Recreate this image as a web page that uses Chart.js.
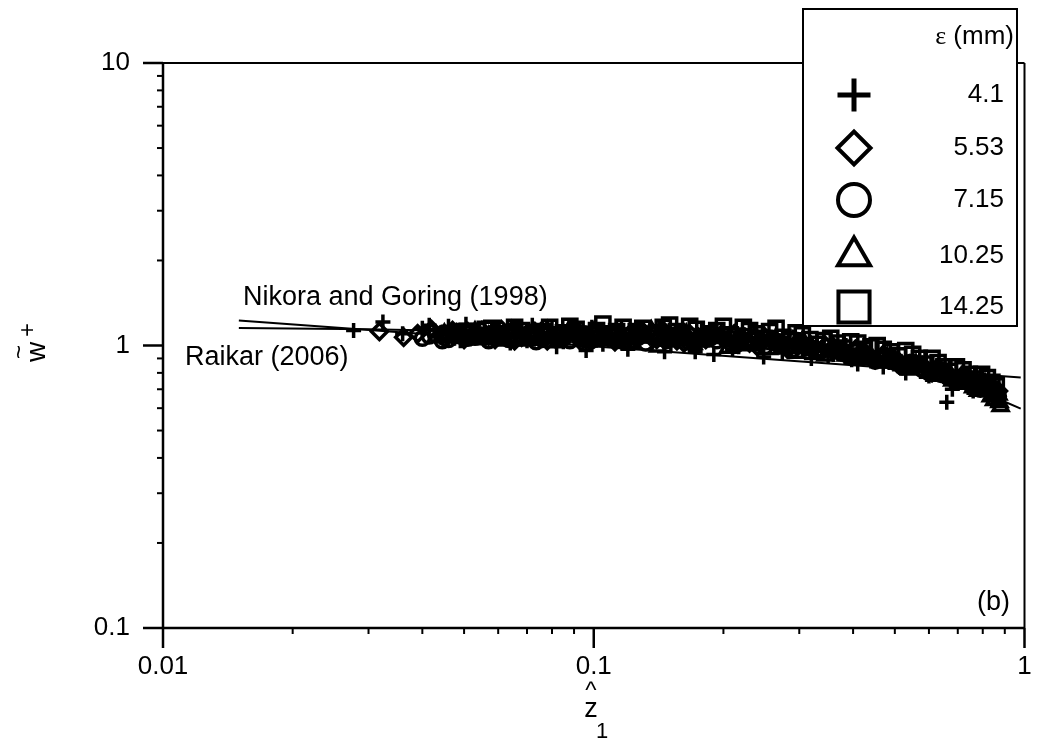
<!DOCTYPE html>
<html>
<head>
<meta charset="utf-8">
<script src="https://cdn.jsdelivr.net/npm/chart.js@4.4.0/dist/chart.umd.min.js"></script>
<style>
  html, body { margin: 0; padding: 0; background: #fff; }
  canvas { display: block; }
</style>
</head>
<body>
<canvas id="chart" width="1038" height="744"></canvas>
<script>
const FONT = '"Liberation Sans", Arial, sans-serif';

// axis ticks
const xMajorTicks = [0.01, 0.1, 1];
const yMajorTicks = [0.1, 1, 10];

// legend labels: roughness epsilon (mm)
const roughnessLabels = ['4.1', '5.53', '7.15', '10.25', '14.25'];
const markerStyles = ['cross', 'rectRot', 'circle', 'triangle', 'rect'];

// eps = 4.1 mm (crosses)
const crossX = [0.0277, 0.0324, 0.036, 0.040, 0.043, 0.046, 0.049, 0.052, 0.056, 0.060, 0.064, 0.068, 0.072, 0.077, 0.082, 0.087, 0.093, 0.099, 0.105, 0.112, 0.120, 0.128, 0.137, 0.146, 0.156, 0.167, 0.178, 0.190, 0.203, 0.217, 0.232, 0.248, 0.265, 0.283, 0.300, 0.320, 0.340, 0.360, 0.385, 0.410, 0.440, 0.470, 0.500, 0.530, 0.560, 0.600, 0.640, 0.660, 0.680, 0.720, 0.760, 0.800, 0.840, 0.860,
    0.0415, 0.0445, 0.0475, 0.0505, 0.054, 0.058, 0.062, 0.066, 0.070, 0.075, 0.080, 0.085, 0.090, 0.096, 0.102, 0.108, 0.116, 0.124, 0.133, 0.142, 0.151, 0.161, 0.172, 0.184, 0.196, 0.210, 0.224, 0.240, 0.256, 0.274, 0.292, 0.310, 0.330, 0.350, 0.372, 0.397, 0.425, 0.455, 0.485, 0.515, 0.545, 0.58, 0.62, 0.70, 0.74, 0.78, 0.82, 0.85];
const crossY = [1.13, 1.21, 1.10, 1.15, 1.08, 1.17, 1.04, 1.12, 1.06, 1.15, 1.02, 1.10, 1.18, 1.05, 0.99, 1.12, 1.07, 1.16, 1.01, 1.10, 0.97, 1.13, 1.04, 0.95, 1.09, 1.01, 1.14, 0.93, 1.06, 0.99, 1.10, 0.91, 1.02, 0.95, 1.05, 0.90, 0.98, 0.93, 1.00, 0.86, 0.92, 0.84, 0.90, 0.80, 0.86, 0.78, 0.82, 0.63, 0.70, 0.74, 0.69, 0.72, 0.64, 0.70,
    1.18, 1.11, 1.06, 1.19, 1.09, 1.13, 1.07, 1.16, 1.04, 1.11, 1.15, 1.03, 1.09, 0.96, 1.12, 1.06, 1.14, 1.03, 1.08, 1.16, 1.00, 1.12, 0.95, 1.05, 1.09, 0.97, 1.08, 1.02, 1.06, 0.94, 1.03, 0.97, 1.01, 0.92, 0.96, 0.89, 0.94, 0.90, 0.87, 0.84, 0.88, 0.83, 0.80, 0.76, 0.71, 0.75, 0.67, 0.68];

// eps = 5.53 mm (diamonds)
const diamondX = [0.0318, 0.0362, 0.039, 0.042, 0.045, 0.048, 0.052, 0.055, 0.059, 0.063, 0.068, 0.073, 0.078, 0.084, 0.090, 0.097, 0.104, 0.112, 0.120, 0.130, 0.140, 0.150, 0.162, 0.175, 0.190, 0.205, 0.220, 0.240, 0.260, 0.280, 0.300, 0.330, 0.360, 0.390, 0.420, 0.450, 0.490, 0.530, 0.570, 0.610, 0.650, 0.700, 0.740, 0.790, 0.830, 0.870,
    0.044, 0.047, 0.050, 0.0535, 0.057, 0.061, 0.0655, 0.0705, 0.0755, 0.081, 0.087, 0.0935, 0.1005, 0.108, 0.116, 0.125, 0.135, 0.145, 0.156, 0.168, 0.182, 0.197, 0.212, 0.230, 0.250, 0.270, 0.290, 0.315, 0.345, 0.375, 0.405, 0.435, 0.470, 0.510, 0.550, 0.590, 0.630, 0.675, 0.720, 0.765, 0.810, 0.850];
const diamondY = [1.12, 1.07, 1.10, 1.14, 1.06, 1.11, 1.08, 1.13, 1.05, 1.10, 1.07, 1.12, 1.04, 1.09, 1.13, 1.06, 1.10, 1.03, 1.08, 1.12, 1.05, 1.09, 1.02, 1.07, 1.11, 1.03, 1.06, 0.99, 1.04, 0.98, 1.01, 0.96, 0.99, 0.93, 0.95, 0.89, 0.91, 0.85, 0.86, 0.80, 0.81, 0.76, 0.77, 0.71, 0.73, 0.69,
    1.09, 1.13, 1.05, 1.11, 1.08, 1.14, 1.04, 1.09, 1.12, 1.06, 1.10, 1.03, 1.13, 1.07, 1.05, 1.10, 1.08, 1.13, 1.04, 1.09, 1.05, 1.08, 1.10, 1.02, 1.07, 1.01, 1.05, 0.99, 1.00, 0.95, 0.97, 0.92, 0.93, 0.88, 0.87, 0.83, 0.84, 0.78, 0.79, 0.74, 0.74, 0.70];

// eps = 7.15 mm (circles)
const circleX = [0.040, 0.043, 0.046, 0.049, 0.053, 0.057, 0.061, 0.066, 0.071, 0.076, 0.082, 0.088, 0.095, 0.102, 0.110, 0.118, 0.127, 0.137, 0.148, 0.160, 0.172, 0.186, 0.200, 0.215, 0.232, 0.250, 0.270, 0.290, 0.310, 0.335, 0.360, 0.390, 0.420, 0.450, 0.485, 0.520, 0.560, 0.600, 0.640, 0.690, 0.740, 0.790, 0.840, 0.870,
    0.0415, 0.0445, 0.0475, 0.051, 0.055, 0.059, 0.0635, 0.0685, 0.0735, 0.079, 0.085, 0.0915, 0.0985, 0.106, 0.114, 0.1225, 0.132, 0.1425, 0.154, 0.166, 0.179, 0.193, 0.2075, 0.2235, 0.241, 0.26, 0.28, 0.30, 0.322, 0.347, 0.375, 0.405, 0.435, 0.468, 0.502, 0.54, 0.58, 0.62, 0.665, 0.715, 0.765, 0.815, 0.855];
const circleY = [1.06, 1.09, 1.05, 1.10, 1.07, 1.04, 1.09, 1.06, 1.11, 1.05, 1.08, 1.04, 1.10, 1.06, 1.09, 1.03, 1.07, 1.11, 1.04, 1.08, 1.02, 1.06, 1.09, 1.01, 1.05, 0.99, 1.03, 0.97, 1.00, 0.95, 0.97, 0.92, 0.94, 0.88, 0.89, 0.84, 0.85, 0.80, 0.79, 0.75, 0.74, 0.70, 0.71, 0.66,
    1.08, 1.04, 1.11, 1.06, 1.09, 1.12, 1.05, 1.08, 1.03, 1.10, 1.06, 1.12, 1.04, 1.08, 1.05, 1.10, 1.02, 1.06, 1.09, 1.03, 1.07, 1.04, 1.06, 1.08, 1.02, 1.06, 1.00, 1.03, 0.98, 0.99, 0.94, 0.95, 0.91, 0.91, 0.87, 0.87, 0.82, 0.82, 0.77, 0.77, 0.72, 0.72, 0.68];

// eps = 10.25 mm (triangles)
const triangleX = [0.045, 0.049, 0.053, 0.057, 0.062, 0.067, 0.072, 0.078, 0.084, 0.090, 0.097, 0.105, 0.113, 0.122, 0.131, 0.141, 0.152, 0.164, 0.177, 0.190, 0.205, 0.220, 0.237, 0.255, 0.275, 0.296, 0.320, 0.345, 0.370, 0.400, 0.430, 0.460, 0.500, 0.540, 0.580, 0.620, 0.660, 0.700, 0.740, 0.780, 0.820, 0.850, 0.870, 0.880,
    0.047, 0.051, 0.055, 0.0595, 0.0645, 0.0695, 0.075, 0.081, 0.087, 0.0935, 0.101, 0.109, 0.1175, 0.1265, 0.136, 0.1465, 0.158, 0.1705, 0.1835, 0.1975, 0.2125, 0.2285, 0.246, 0.265, 0.2855, 0.308, 0.3325, 0.3575, 0.385, 0.415, 0.445, 0.48, 0.52, 0.56, 0.60, 0.64, 0.68, 0.72, 0.76, 0.80, 0.835, 0.86, 0.875];
const triangleY = [1.10, 1.06, 1.12, 1.08, 1.04, 1.10, 1.07, 1.13, 1.05, 1.09, 1.03, 1.08, 1.12, 1.02, 1.07, 0.99, 1.05, 1.10, 1.03, 1.07, 0.98, 1.04, 1.08, 0.97, 1.02, 0.94, 0.99, 0.92, 0.96, 0.90, 0.93, 0.87, 0.89, 0.82, 0.84, 0.78, 0.79, 0.73, 0.75, 0.69, 0.70, 0.64, 0.67, 0.61,
    1.07, 1.11, 1.05, 1.10, 1.13, 1.04, 1.09, 1.06, 1.11, 1.07, 1.12, 1.04, 1.06, 1.10, 1.13, 1.04, 1.08, 1.01, 1.06, 1.09, 1.03, 1.00, 1.05, 1.01, 0.98, 1.02, 0.95, 0.98, 0.92, 0.94, 0.89, 0.91, 0.85, 0.86, 0.80, 0.81, 0.75, 0.76, 0.71, 0.72, 0.66, 0.68, 0.63];

// eps = 14.25 mm (squares)
const squareX = [0.050, 0.054, 0.058, 0.063, 0.068, 0.073, 0.079, 0.085, 0.091, 0.098, 0.105, 0.113, 0.121, 0.130, 0.140, 0.150, 0.161, 0.173, 0.186, 0.200, 0.215, 0.230, 0.247, 0.265, 0.285, 0.305, 0.330, 0.355, 0.380, 0.410, 0.440, 0.470, 0.510, 0.550, 0.590, 0.630, 0.670, 0.720, 0.770, 0.820, 0.860,
    0.052, 0.056, 0.0605, 0.0655, 0.0705, 0.076, 0.082, 0.088, 0.0945, 0.1015, 0.109, 0.117, 0.1255, 0.135, 0.145, 0.1555, 0.167, 0.1795, 0.193, 0.2075, 0.2225, 0.2385, 0.256, 0.275, 0.295, 0.3175, 0.3425, 0.3675, 0.395, 0.425, 0.455, 0.49, 0.53, 0.57, 0.61, 0.65, 0.695, 0.745, 0.795, 0.84];
const squareY = [1.12, 1.08, 1.15, 1.10, 1.13, 1.07, 1.16, 1.11, 1.14, 1.09, 1.19, 1.12, 1.08, 1.15, 1.11, 1.18, 1.09, 1.14, 1.10, 1.17, 1.08, 1.13, 1.06, 1.15, 1.04, 1.09, 1.01, 1.06, 0.98, 1.02, 0.99, 0.97, 0.92, 0.93, 0.86, 0.87, 0.81, 0.82, 0.76, 0.77, 0.72,
    1.10, 1.14, 1.09, 1.16, 1.08, 1.12, 1.09, 1.17, 1.08, 1.13, 1.10, 1.16, 1.12, 1.09, 1.16, 1.12, 1.17, 1.07, 1.13, 1.09, 1.16, 1.10, 1.12, 1.07, 1.11, 1.05, 1.04, 1.02, 1.03, 0.97, 1.00, 0.95, 0.96, 0.90, 0.90, 0.84, 0.84, 0.79, 0.79, 0.74];

// fitted curves
const nikoraX = [0.015, 0.98];
const nikoraY = [1.226, 0.77];
const raikarX = [0.015, 0.03, 0.06, 0.1, 0.2, 0.3, 0.4, 0.5, 0.6, 0.7, 0.8, 0.9, 0.98];
const raikarY = [1.153, 1.141, 1.118, 1.088, 1.016, 0.948, 0.885, 0.826, 0.775, 0.724, 0.676, 0.632, 0.598];

function pts(xs, ys) {
    return xs.map((x, i) => ({ x: x, y: ys[i] }));
}

function tickList(majors) {
    const list = [];
    majors.forEach((m, i) => {
        list.push({ value: m, major: true });
        if (i < majors.length - 1) {
            for (let k = 2; k <= 9; k++) list.push({ value: +(m * k).toPrecision(3), major: false });
        }
    });
    return list;
}

function markerSet(xs, ys, style, radius) {
    return {
        type: 'scatter',
        data: pts(xs, ys),
        pointStyle: style,
        pointRadius: radius,
        pointBorderWidth: 3.5,
        borderColor: '#000',
        backgroundColor: 'rgba(0,0,0,0)'
    };
}

function curveSet(xs, ys) {
    return {
        type: 'line',
        data: pts(xs, ys),
        borderColor: '#000',
        borderWidth: 2,
        pointRadius: 0,
        fill: false,
        tension: 0
    };
}

function line(ctx, x1, y1, x2, y2) {
    ctx.beginPath();
    ctx.moveTo(x1, y1);
    ctx.lineTo(x2, y2);
    ctx.stroke();
}

const decorPlugin = {
    id: 'decor',
    afterDatasetsDraw(chart) {
        const { ctx, chartArea: a, scales: { x, y } } = chart;
        ctx.save();
        ctx.strokeStyle = '#000';
        ctx.fillStyle = '#000';

        // frame
        ctx.lineWidth = 2;
        line(ctx, a.left, a.top, a.right, a.top);
        line(ctx, a.right, a.top, a.right, a.bottom);
        ctx.lineWidth = 2.5;
        line(ctx, a.left, a.top, a.left, a.bottom);
        line(ctx, a.left, a.bottom, a.right, a.bottom);

        // tick marks
        x.ticks.forEach(t => {
            const px = x.getPixelForValue(t.value);
            ctx.lineWidth = t.major ? 2.5 : 2;
            line(ctx, px, a.bottom, px, a.bottom + (t.major ? 20 : 6));
        });
        y.ticks.forEach(t => {
            const py = y.getPixelForValue(t.value);
            ctx.lineWidth = t.major ? 2.5 : 2;
            line(ctx, a.left, py, a.left - (t.major ? 20 : 6), py);
        });

        // curve labels
        ctx.font = '27px ' + FONT;
        ctx.textBaseline = 'middle';
        ctx.textAlign = 'left';
        ctx.fillText('Nikora and Goring (1998)', 243, 298);
        ctx.fillText('Raikar (2006)', 185, 358);
        ctx.textAlign = 'right';
        ctx.fillText('(b)', 1010, 603);

        // x title: z hat, subscript 1
        ctx.textAlign = 'center';
        ctx.font = '24px ' + FONT;
        ctx.fillText('^', 591, 691);
        ctx.font = '27px ' + FONT;
        ctx.fillText('z', 591, 710);
        ctx.font = '22px ' + FONT;
        ctx.fillText('1', 602, 732);

        // y title: w tilde, superscript +
        ctx.save();
        ctx.translate(37, 352);
        ctx.rotate(-Math.PI / 2);
        ctx.font = '28px ' + FONT;
        ctx.fillText('w', 0, 0);
        ctx.font = '24px ' + FONT;
        ctx.fillText('~', 0, -17);
        ctx.fillText('+', 22, -9);
        ctx.restore();

        // legend box
        ctx.lineWidth = 2;
        ctx.fillStyle = '#fff';
        ctx.fillRect(803, 9, 214, 317);
        ctx.strokeRect(803, 9, 214, 317);
        ctx.fillStyle = '#000';
        ctx.textAlign = 'right';
        const head = ' (mm)';
        ctx.font = '26px ' + FONT;
        const headW = ctx.measureText(head).width;
        ctx.fillText(head, 1014, 37);
        ctx.font = '26px "Liberation Serif", serif';
        ctx.fillText('\u03b5', 1014 - headW, 37);

        const rowY = [95, 148, 200, 256, 307];
        const legendRadius = [16.5, 16.5, 16, 18.5, 22];
        ctx.font = '26px ' + FONT;
        roughnessLabels.forEach((lab, i) => {
            ctx.fillStyle = '#000';
            ctx.fillText(lab, 1004, rowY[i]);
            ctx.fillStyle = 'rgba(0,0,0,0)';
            const bw = markerStyles[i] === 'cross' ? 5 : 4;
            ctx.lineWidth = bw;
            Chart.helpers.drawPoint(ctx, {
                pointStyle: markerStyles[i],
                radius: legendRadius[i],
                borderWidth: bw,
                rotation: 0
            }, 854, rowY[i]);
        });
        ctx.restore();
    }
};

new Chart(document.getElementById('chart'), {
    type: 'scatter',
    data: {
        datasets: [
            curveSet(nikoraX, nikoraY),
            curveSet(raikarX, raikarY),
            markerSet(crossX, crossY, 'cross', 7.5),
            markerSet(diamondX, diamondY, 'rectRot', 8),
            markerSet(circleX, circleY, 'circle', 7),
            markerSet(triangleX, triangleY, 'triangle', 8.5),
            markerSet(squareX, squareY, 'rect', 10)
        ]
    },
    options: {
        responsive: false,
        animation: false,
        events: [],
        layout: { padding: { top: 63, right: 12, left: 0, bottom: 0 } },
        plugins: { legend: { display: false }, tooltip: { enabled: false } },
        scales: {
            x: {
                type: 'logarithmic',
                min: 0.01,
                max: 1,
                grid: { display: false, drawTicks: false },
                border: { display: false },
                afterBuildTicks: s => { s.ticks = tickList(xMajorTicks); },
                afterFit: s => { s.height = 116; s.paddingLeft = 0; s.paddingRight = 0; },
                ticks: {
                    autoSkip: false,
                    maxRotation: 0,
                    padding: 23,
                    color: '#000',
                    font: { family: FONT, size: 26 },
                    callback: v => xMajorTicks.includes(v) ? String(v) : ''
                }
            },
            y: {
                type: 'logarithmic',
                min: 0.1,
                max: 10,
                grid: { display: false, drawTicks: false },
                border: { display: false },
                afterBuildTicks: s => { s.ticks = tickList(yMajorTicks); },
                afterFit: s => { s.width = 163; s.paddingTop = 0; s.paddingBottom = 0; },
                ticks: {
                    autoSkip: false,
                    padding: 33,
                    color: '#000',
                    font: { family: FONT, size: 26 },
                    callback: v => yMajorTicks.includes(v) ? String(v) : ''
                }
            }
        }
    },
    plugins: [decorPlugin]
});
</script>
</body>
</html>
